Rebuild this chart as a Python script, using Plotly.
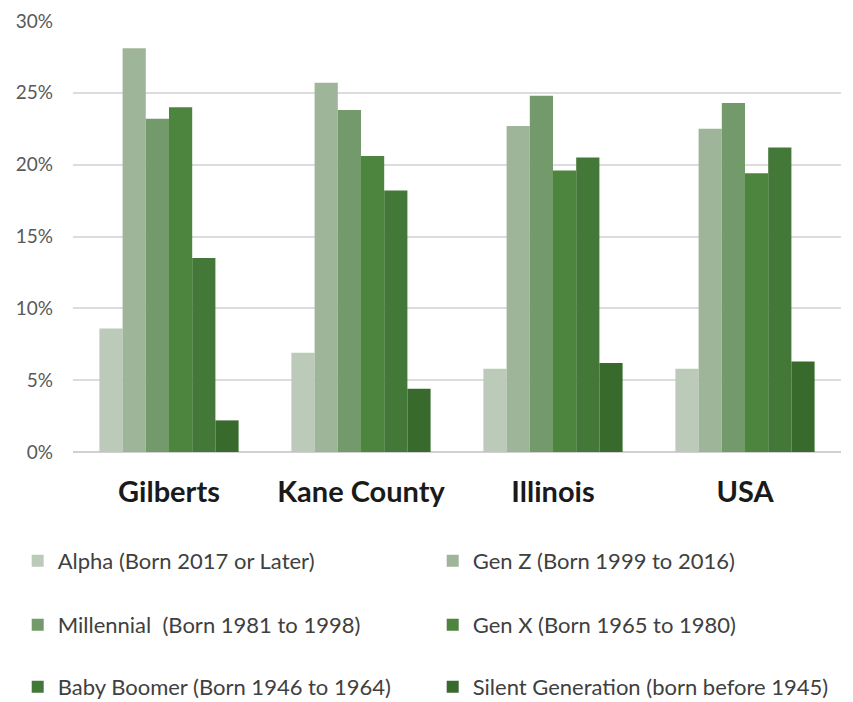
import plotly.graph_objects as go

categories = ["Gilberts", "Kane County", "Illinois", "USA"]
series_names = [
    "Alpha (Born 2017 or Later)",
    "Gen Z (Born 1999 to 2016)",
    "Millennial  (Born 1981 to 1998)",
    "Gen X (Born 1965 to 1980)",
    "Baby Boomer (Born 1946 to 1964)",
    "Silent Generation (born before 1945)",
]
alpha = [8.6, 6.9, 5.8, 5.8]
gen_z = [28.1, 25.7, 22.7, 22.5]
millennial = [23.2, 23.8, 24.8, 24.3]
gen_x = [24.0, 20.6, 19.6, 19.4]
boomer = [13.5, 18.2, 20.5, 21.2]
silent = [2.2, 4.4, 6.2, 6.3]
tick_vals = [0, 5, 10, 15, 20, 25, 30]
tick_text = ["0%", "5%", "10%", "15%", "20%", "25%", "30%"]

values = [alpha, gen_z, millennial, gen_x, boomer, silent]
colors = ["#bccab9", "#9fb599", "#739a6b", "#4e853e", "#447838", "#386a2e"]
legend_ids = ["legend", "legend", "legend2", "legend2", "legend3", "legend3"]

FONT = "Lato, 'Open Sans', sans-serif"

fig = go.Figure()
for name, vals, col, lg in zip(series_names, values, colors, legend_ids):
    fig.add_trace(go.Bar(x=categories, y=vals, name=name, marker_color=col,
                         marker_line_width=0, legend=lg))

def leg(y):
    return dict(orientation="h", x=-0.072, xanchor="left", y=y, yanchor="middle",
                entrywidth=370, entrywidthmode="pixels",
                font=dict(family=FONT, size=22, color="#404040"),
                bgcolor="rgba(0,0,0,0)", traceorder="normal", itemclick=False)

fig.update_layout(
    width=853, height=702,
    margin=dict(l=73, r=12, t=21, b=250, autoexpand=False),
    paper_bgcolor="white", plot_bgcolor="white",
    barmode="group", bargap=0.275, bargroupgap=0,
    font=dict(family=FONT),
    showlegend=True,
    legend=leg(-0.2527),
    legend2=leg(-0.4011),
    legend3=leg(-0.5449),
    xaxis=dict(showline=False, showgrid=False, ticks="",
               tickfont=dict(family=FONT, size=29, color="#1a1a1a", weight="bold"),
               ticklabelstandoff=20),
    yaxis=dict(range=[0, 30], tickvals=tick_vals, ticktext=tick_text,
               showgrid=True, gridcolor="#dcdcdc", gridwidth=1.5,
               zeroline=True, zerolinecolor="#d0d0d0", zerolinewidth=1.5,
               showline=False, ticks="",
               tickfont=dict(family=FONT, size=19, color="#595959"),
               ticklabelstandoff=19),
)

fig.write_html("out.html")
